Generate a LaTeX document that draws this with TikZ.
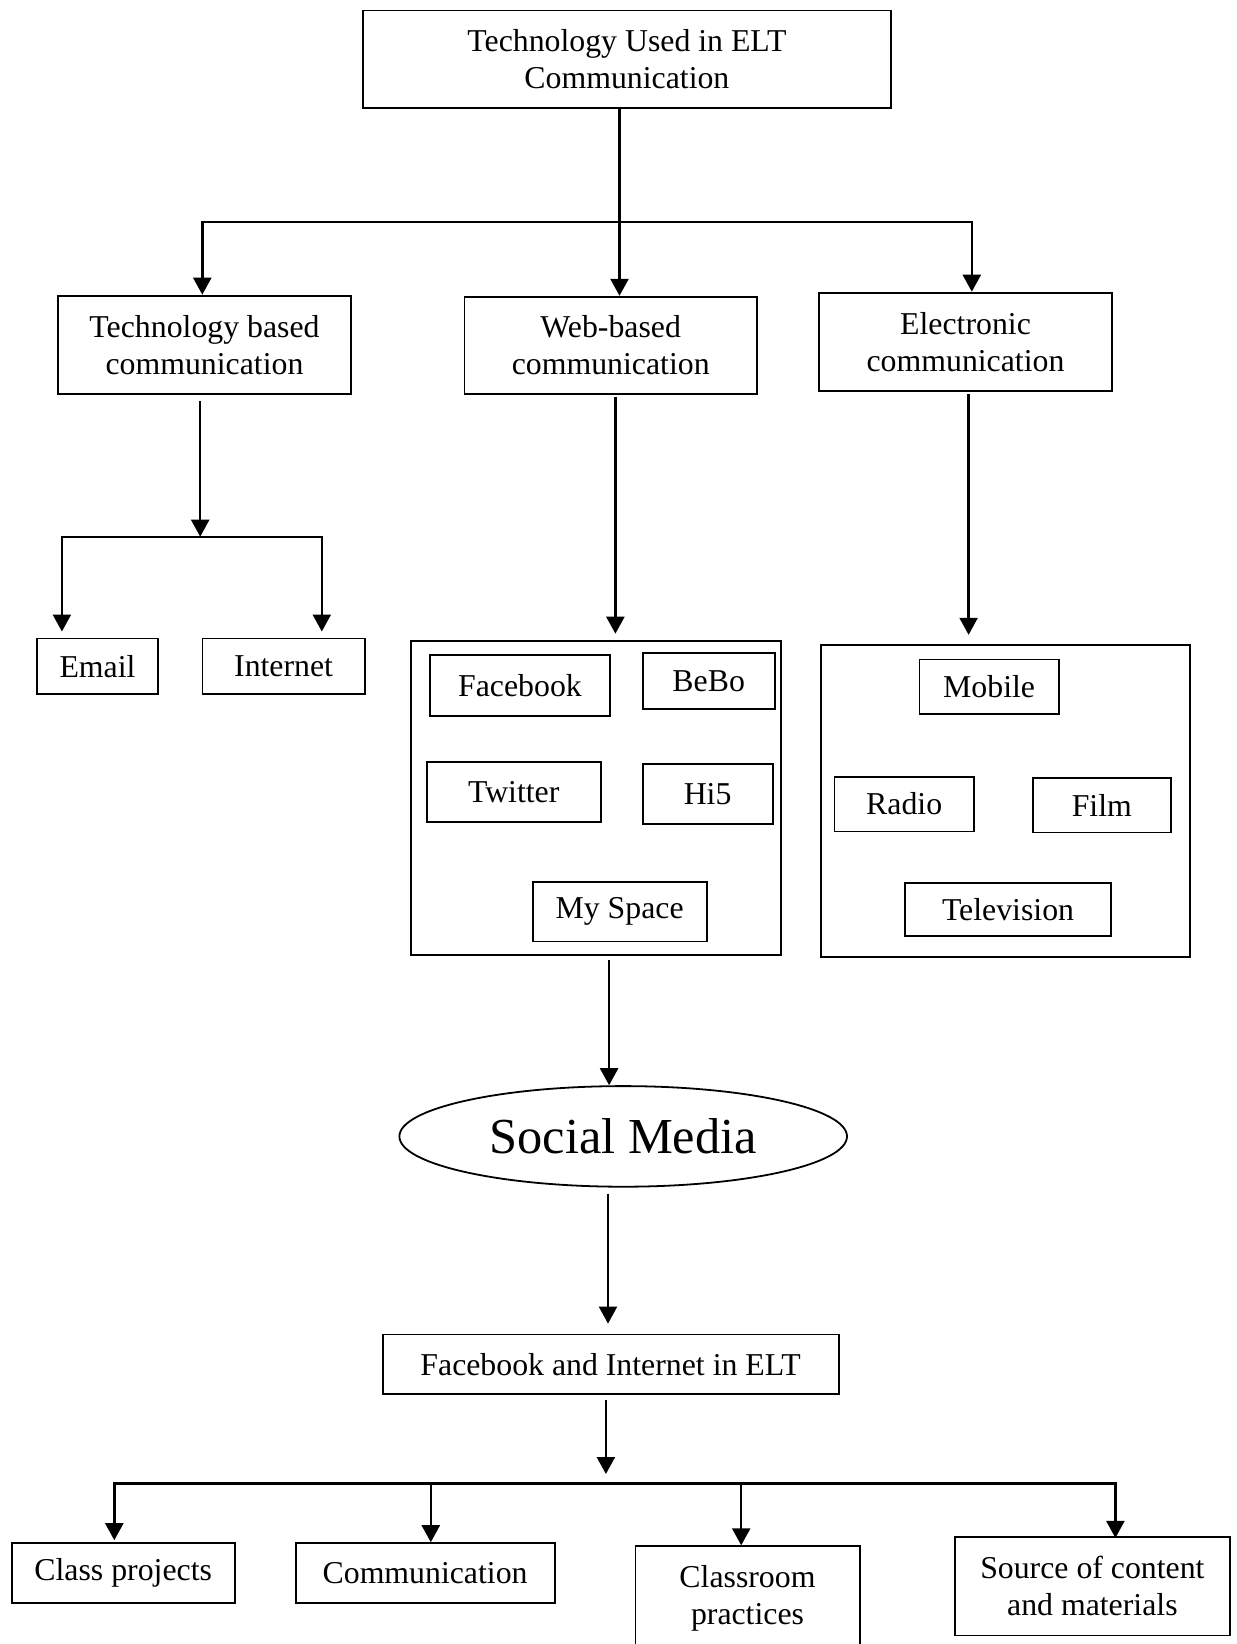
\documentclass[tikz,border=0pt]{standalone}
\usepackage{fontspec}
\setmainfont{Liberation Serif}
\usetikzlibrary{arrows.meta,shapes.geometric}
\begin{document}
\begin{tikzpicture}[x=0.5pt,y=-0.5pt,
  every node/.style={font=\fontsize{15.9}{18.4}\selectfont},
  box/.style={draw,line width=0.9pt,inner sep=0pt,align=center},
  wire/.style={line width=1.2pt},
  arr/.style={line width=1.2pt,-{Triangle[length=8.5pt,width=9pt]}}]
\useasboundingbox (0,0) rectangle (1237,1644);
% top level
\node[box,minimum width=264.2pt,minimum height=48.8pt] (top) at (626.9,59.2) {Technology Used in ELT\\Communication};
\node[box,minimum width=146.7pt,minimum height=49.3pt] (tech) at (204.5,344.9) {Technology based\\communication};
\node[box,minimum width=146.2pt,minimum height=48.8pt] (web) at (610.7,345.5) {Web-based\\communication};
\node[box,minimum width=146.8pt,minimum height=49.2pt] (elec) at (965.5,341.8) {Electronic\\communication};
% tech children
\node[box,minimum width=60.8pt,minimum height=27.8pt] (email) at (97.5,666.2) {Email};
\node[box,minimum width=81.2pt,minimum height=27.8pt] (inet) at (283.6,666.2) {Internet};
% web container
\node[box,minimum width=185pt,minimum height=157.2pt] (webc) at (596.0,797.8) {};
\node[box,minimum width=90.1pt,minimum height=30.4pt] (fb) at (520.0,685.6) {Facebook};
\node[box,minimum width=66pt,minimum height=27.8pt] (bebo) at (708.7,680.9) {BeBo};
\node[box,minimum width=87pt,minimum height=29.9pt] (tw) at (513.7,792.0) {Twitter};
\node[box,minimum width=65pt,minimum height=29.9pt] (hi5) at (707.6,794.1) {Hi5};
\node[box,minimum width=87pt,minimum height=29.9pt] (mys) at (619.6,911.5) {My Space};
% electronic container
\node[box,minimum width=184.5pt,minimum height=156.2pt] (elecc) at (1005.3,800.9) {};
\node[box,minimum width=69.7pt,minimum height=27.3pt] (mob) at (989.1,686.7) {Mobile};
\node[box,minimum width=69.7pt,minimum height=27.3pt] (radio) at (904.2,804.1) {Radio};
\node[box,minimum width=69.2pt,minimum height=27.3pt] (film) at (1101.8,805.1) {Film};
\node[box,minimum width=103.2pt,minimum height=26.7pt] (tv) at (1008.0,909.4) {Television};
% social media
\node[draw,ellipse,line width=0.9pt,inner sep=0pt,minimum width=223.8pt,minimum height=50.3pt,font=\fontsize{25.2}{29}\selectfont] (sm) at (623.2,1136.4) {Social Media};
\node[box,minimum width=228pt,minimum height=29.9pt] (fbi) at (610.6,1364.4) {Facebook and Internet in ELT};
% bottom
\node[box,minimum width=111.6pt,minimum height=29.9pt] (cp) at (123.2,1573) {Class projects};
\node[box,minimum width=129.5pt,minimum height=29.9pt] (com) at (425.1,1573) {Communication};
\node[box,minimum width=112.1pt,minimum height=51.9pt] (crp) at (747.5,1598.1) {Classroom\\practices};
\node[box,minimum width=137.3pt,minimum height=49.3pt] (src) at (1092.4,1586.1) {Source of content\\and materials};
% junctions
\coordinate (j1) at (619.5,222.2);
\coordinate (bL) at (202.3,222.2);
\coordinate (bR) at (971.8,222.2);
\coordinate (j2) at (200.2,536.7);
\coordinate (b2L) at (61.9,536.7);
\coordinate (b2R) at (321.8,536.7);
\coordinate (jw) at (615.4,0);
\coordinate (je) at (968.6,0);
\coordinate (js) at (609.1,0);
\coordinate (jf) at (608.0,0);
\coordinate (j3) at (605.9,1474);
\coordinate (b3L) at (114.3,1483.3);
\coordinate (b3R) at (1115.4,1483.3);
\coordinate (b3a) at (430.8,1483.3);
\coordinate (b3b) at (741.2,1483.3);
% connectors
\draw[arr] (top.south -| j1) -- (web.north -| j1);
\draw[wire,line cap=rect] (bL) -- (bR);
\draw[arr] (bL) -- (tech.north -| bL);
\draw[arr] (bR) -- (elec.north -| bR);
\draw[arr,shorten <=3pt] (tech.south -| j2) -- (j2);
\draw[wire,line cap=rect] (b2L) -- (b2R);
\draw[arr,shorten >=3pt] (b2L) -- (email.north -| b2L);
\draw[arr,shorten >=3pt] (b2R) -- (inet.north -| b2R);
\draw[arr,shorten <=1pt,shorten >=3pt] (web.south -| jw) -- (webc.north -| jw);
\draw[arr,shorten <=1pt,shorten >=4.5pt] (elec.south -| je) -- (elecc.north -| je);
\draw[arr,shorten <=2pt] (webc.south -| js) -- (sm.north -| js);
\draw[arr,shorten <=3pt,shorten >=5pt] (sm.south -| jf) -- (fbi.north -| jf);
\draw[arr,shorten <=2.5pt] (fbi.south -| j3) -- (j3);
\draw[wire,line cap=rect] (b3L) -- (b3R);
\draw[arr,shorten >=1pt] (b3L) -- (cp.north -| b3L);
\draw[arr] (b3a) -- (com.north -| b3a);
\draw[arr] (b3b) -- (crp.north -| b3b);
\draw[arr,shorten >=-1pt] (b3R) -- (src.north -| b3R);
\end{tikzpicture}
\end{document}
